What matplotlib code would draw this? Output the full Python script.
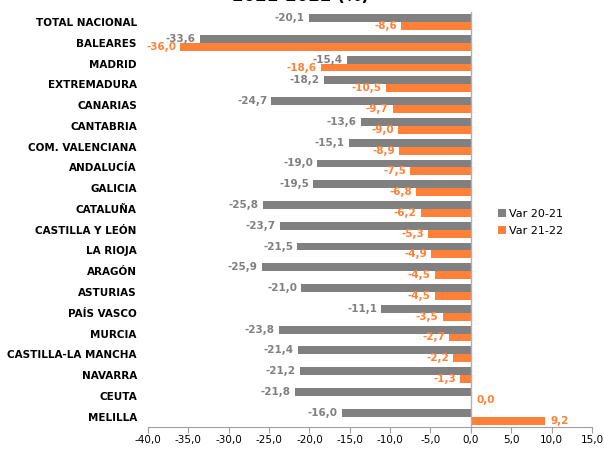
import matplotlib.pyplot as plt
import numpy as np

# data
regiones = ['TOTAL NACIONAL', 'BALEARES', 'MADRID', 'EXTREMADURA', 'CANARIAS',
            'CANTABRIA', 'COM. VALENCIANA', 'ANDALUCÍA', 'GALICIA', 'CATALUÑA',
            'CASTILLA Y LEÓN', 'LA RIOJA', 'ARAGÓN', 'ASTURIAS', 'PAÍS VASCO',
            'MURCIA', 'CASTILLA-LA MANCHA', 'NAVARRA', 'CEUTA', 'MELILLA']
var_20_21 = [-20.1, -33.6, -15.4, -18.2, -24.7, -13.6, -15.1, -19.0, -19.5, -25.8,
             -23.7, -21.5, -25.9, -21.0, -11.1, -23.8, -21.4, -21.2, -21.8, -16.0]
var_21_22 = [-8.6, -36.0, -18.6, -10.5, -9.7, -9.0, -8.9, -7.5, -6.8, -6.2,
             -5.3, -4.9, -4.5, -4.5, -3.5, -2.7, -2.2, -1.3, 0.0, 9.2]
ticks = [-40, -35, -30, -25, -20, -15, -10, -5, 0, 5, 10, 15]

GRIS = '#808080'
NARANJA = '#ff8139'

def fmt(v):
    return f"{v:.1f}".replace('.', ',')

fig = plt.figure(figsize=(6.04, 4.49), dpi=100)
ax = fig.add_axes([0.245, 0.049, 0.735, 0.925])

y = np.arange(len(regiones))
h = 0.38
ax.barh(y - h / 2, var_20_21, height=h, color=GRIS, label='Var 20-21')
ax.barh(y + h / 2, var_21_22, height=h, color=NARANJA, label='Var 21-22')

# data labels
for i, (a, b) in enumerate(zip(var_20_21, var_21_22)):
    ax.annotate(fmt(a), (a, i - h / 2), xytext=(-3, 0), textcoords='offset points',
                ha='right', va='center', color=GRIS, fontsize=7.5, fontweight='bold')
    if b < 0:
        ax.annotate(fmt(b), (b, i + h / 2), xytext=(-3, 0), textcoords='offset points',
                    ha='right', va='center', color=NARANJA, fontsize=7.5, fontweight='bold')
    else:
        ax.annotate(fmt(b), (b, i + h / 2), xytext=(4, 0), textcoords='offset points',
                    ha='left', va='center', color=NARANJA, fontsize=7.5, fontweight='bold')

ax.set_xlim(-40, 15)
ax.set_ylim(len(regiones) - 0.5, -0.5)
ax.set_xticks(ticks)
ax.set_xticklabels([fmt(t) for t in ticks], fontsize=7.5)
ax.set_yticks(y)
ax.set_yticklabels(regiones, fontsize=7.5, fontweight='bold')
ax.tick_params(axis='y', length=0, pad=8)
ax.tick_params(axis='x', length=4, color='#a0a0a0', pad=2)
ax.axvline(0, color='#b0b0b0', lw=1)
for s in ['top', 'right', 'left']:
    ax.spines[s].set_visible(False)
ax.spines['bottom'].set_color('#a0a0a0')

fig.legend(loc='center left', bbox_to_anchor=(0.808, 0.505), frameon=False,
           fontsize=8, handlelength=0.7, handleheight=0.7, handletextpad=0.3,
           labelspacing=0.6)

# title, cut off at top of the original image
fig.text(0.498, 0.998, '2021-2022 (%)', ha='center', va='baseline',
         fontsize=12, fontweight='bold')

fig.savefig('out.png', dpi=100)
